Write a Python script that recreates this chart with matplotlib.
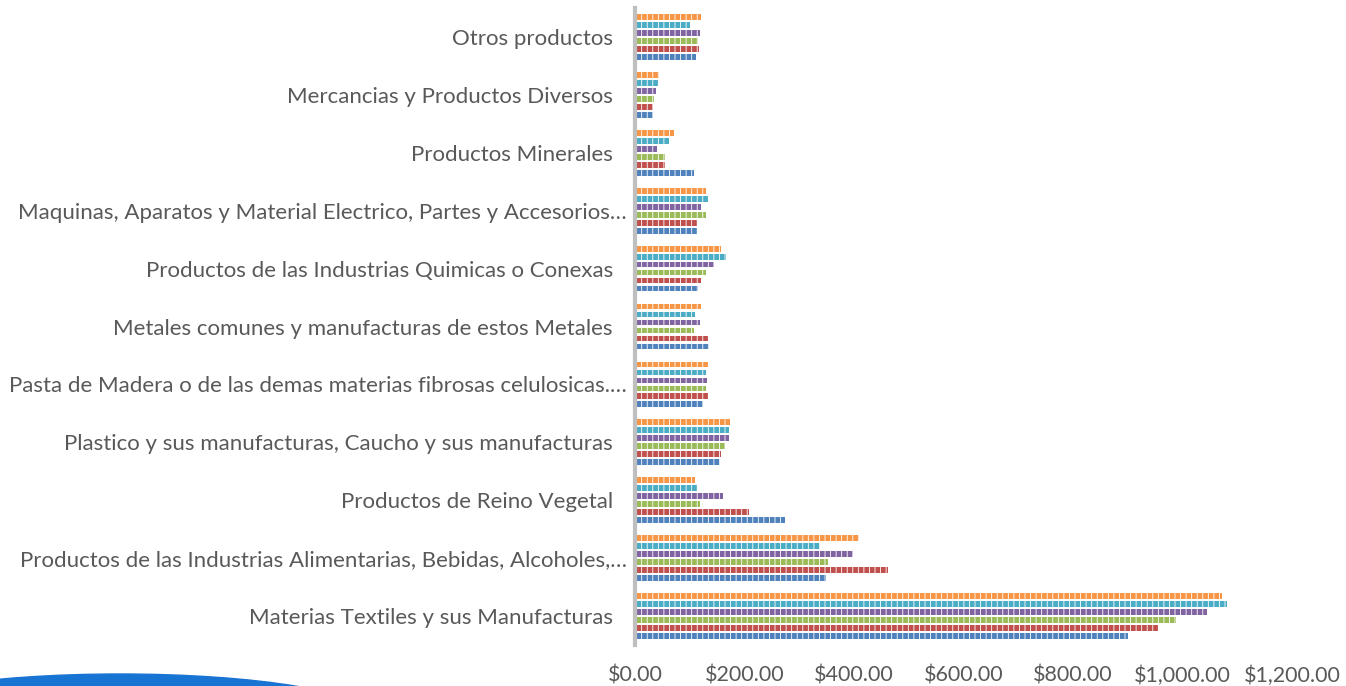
import numpy as np
import matplotlib
matplotlib.use('Agg')
import matplotlib.pyplot as plt
import matplotlib.transforms as mtransforms
from matplotlib.patches import Ellipse
from matplotlib.ticker import FuncFormatter

# categories from bottom to top
categories = [
    'Materias Textiles y sus Manufacturas',
    'Productos de las Industrias Alimentarias, Bebidas, Alcoholes,…',
    'Productos de Reino Vegetal',
    'Plastico y sus manufacturas, Caucho y sus manufacturas',
    'Pasta de Madera o de las demas materias fibrosas celulosicas.…',
    'Metales comunes y manufacturas de estos Metales',
    'Productos de las Industrias Quimicas o Conexas',
    'Maquinas, Aparatos y Material Electrico, Partes y Accesorios…',
    'Productos Minerales',
    'Mercancias y Productos Diversos',
    'Otros productos',
]

# six series per category (bottom bar to top bar inside each group)
serie1 = [899, 346, 272, 154, 122, 134, 113, 111, 106, 30, 110]
serie2 = [953, 461, 207, 155, 132, 131, 119, 111, 52, 30, 115]
serie3 = [986, 350, 116, 163, 128, 106, 127, 128, 53, 32, 113]
serie4 = [1042, 397, 158, 169, 129, 116, 142, 119, 38, 37, 117]
serie5 = [1080, 336, 111, 170, 127, 108, 164, 131, 60, 40, 98]
serie6 = [1070, 407, 108, 172, 131, 119, 155, 127, 69, 41, 119]

series = [serie1, serie2, serie3, serie4, serie5, serie6]
colors = ['#4F81BD', '#C0504D', '#9BBB59', '#8064A2', '#4BACC6', '#F79646']

plt.rcParams['font.family'] = ['Lato', 'DejaVu Sans']
plt.rcParams['hatch.linewidth'] = 0.6

fig = plt.figure(figsize=(13.46, 6.86), dpi=100)
ax = fig.add_axes([0.4718, 0.0598, 0.488, 0.9285])

y = np.arange(len(categories))
slot = 0.138
for i, (vals, c) in enumerate(zip(series, colors)):
    ax.barh(y + (i - 2.5) * slot, vals, height=0.1, color=c,
            edgecolor='white', linewidth=0, hatch='|||', left=2)

ax.set_xlim(0, 1200)
ax.set_ylim(-0.5, 10.5)
ax.set_yticks(y)
ax.set_yticklabels(categories, fontsize=16)
ax.set_xticks(np.arange(0, 1201, 200))
ax.xaxis.set_major_formatter(FuncFormatter(lambda v, p: f'${v:,.2f}'))
ax.tick_params(axis='both', length=0, colors='#595959')
ax.tick_params(axis='x', labelsize=15.5, pad=15)
ax.tick_params(axis='y', pad=16)

# truncated labels sit a little closer to the axis
shift = mtransforms.ScaledTranslation(0.14, 0, fig.dpi_scale_trans)
for lab in ax.get_yticklabels():
    if lab.get_text().endswith('…'):
        lab.set_transform(lab.get_transform() + shift)

for s in ['top', 'right', 'bottom']:
    ax.spines[s].set_visible(False)
ax.spines['left'].set_color('#BFBFBF')
ax.spines['left'].set_linewidth(3)

# blue swoosh at the bottom left
fig.patches.append(Ellipse((120 / 1346, -30 / 686), 500 / 1346, 84 / 686,
                           transform=fig.transFigure, color='#1874D2',
                           zorder=0))

fig.savefig('out.png', dpi=100)
